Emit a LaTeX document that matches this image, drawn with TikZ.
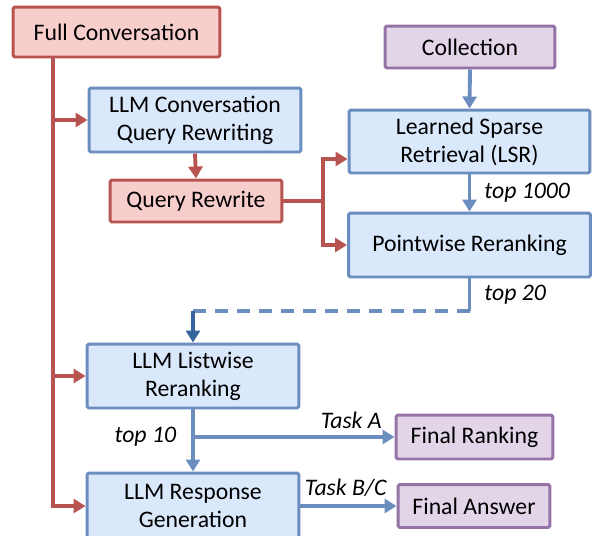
\documentclass[tikz,border=0pt]{standalone}
\usepackage{fontspec}
\setmainfont{Carlito}
\usepackage{xcolor}
\usepackage{tikz}
\usetikzlibrary{positioning,arrows.meta}
\definecolor{redfill}{HTML}{F8CECC}
\definecolor{redline}{HTML}{B85450}
\definecolor{bluefill}{HTML}{DAE8FC}
\definecolor{blueline}{HTML}{6C8EBF}
\definecolor{darkblue}{HTML}{35649E}
\definecolor{purplefill}{HTML}{E1D5E7}
\definecolor{purpleline}{HTML}{9673A6}
\tikzset{
	box/.style={
		rectangle, rounded corners=1pt, line width=1.7pt,
		align=center, inner sep=2pt
	},
	redbox/.style={box, draw=redline, fill=redfill},
	bluebox/.style={box, draw=blueline, fill=bluefill},
	purplebox/.style={box, draw=purpleline, fill=purplefill},
	wire/.style={line width=2.2pt, -{Triangle[length=2.4mm, width=2.8mm]}},
	redarrow/.style={wire, draw=redline},
	bluearrow/.style={wire, draw=blueline},
	darkarrow/.style={wire, draw=darkblue},
	redlink/.style={draw=redline, line width=2.2pt},
	bluelink/.style={draw=blueline, line width=2.2pt},
	bluedash/.style={bluelink, dash pattern=on 2.6mm off 1.8mm},
	tag/.style={font=\fontsize{13.5}{16}\selectfont\itshape, inner sep=0pt, text=black}
}

\begin{document}
\begin{tikzpicture}[x=0.02cm, y=-0.02cm, font=\fontsize{13.5}{16}\selectfont]
	\useasboundingbox (0,0) rectangle (592,535);
	
	%Nodes
	\node[redbox, minimum width=4.14cm, minimum height=1.0cm]      (full)    at (116.5,32)  {Full Conversation};
	\node[bluebox, minimum width=4.24cm, minimum height=1.28cm]    (rewrite) at (195,120)   {LLM Conversation\\Query Rewriting};
	\node[redbox, minimum width=3.44cm, minimum height=0.84cm]     (query)   at (196,201)   {Query Rewrite};
	\node[purplebox, minimum width=3.4cm, minimum height=0.84cm]   (coll)    at (470,47)    {Collection};
	\node[bluebox, minimum width=4.82cm, minimum height=1.26cm]    (lsr)     at (469.5,141.5) {Learned Sparse\\Retrieval (LSR)};
	\node[bluebox, minimum width=4.84cm, minimum height=1.28cm]    (point)   at (469.5,245) {Pointwise Reranking};
	\node[bluebox, minimum width=4.24cm, minimum height=1.28cm]    (list)    at (193,376)   {LLM Listwise\\Reranking};
	\node[bluebox, minimum width=4.24cm, minimum height=1.32cm]    (gen)     at (193,506)   {LLM Response\\Generation};
	\node[purplebox, minimum width=3.14cm, minimum height=0.88cm]  (rank)    at (474.5,437) {Final Ranking};
	\node[purplebox, minimum width=3.04cm, minimum height=0.86cm]  (answer)  at (474,506)   {Final Answer};
	
	\coordinate (spine) at (53,57);
	\coordinate (fork)  at (323,201);
	\coordinate (bend)  at (193,311);
	
	%Lines
	\draw[redarrow] (spine) |- (rewrite.west);
	\draw[redarrow] (spine) |- (list.west);
	\draw[redarrow] (spine) |- (gen.west);
	\draw[redarrow] (rewrite.south) -- (query.north);
	\draw[redlink] (query.east) -- (fork);
	\draw[redarrow] (fork) |- ([yshift=-0.35cm]lsr.west);
	\draw[redarrow] (fork) |- (point.west);
	
	\draw[bluearrow] (coll.south) -- (lsr.north);
	\draw[bluearrow] (lsr.south) -- (point.north)
		node[tag, midway, right=0.26cm] {top 1000};
	\draw[bluelink] (point.south) -- (point.south |- bend)
		node[tag, midway, right=0.26cm] {top 20};
	\draw[bluedash] (point.south |- bend) -- (bend);
	\draw[darkarrow] (bend) -- (list.north);
	
	\draw[bluearrow] (list.south) -- (gen.north);
	\draw[bluearrow] (list.south |- rank.west) -- (rank.west)
		node[tag, pos=0, left=0.3cm] {top 10}
		node[tag, pos=1, above left=0.12cm and 0.22cm] {Task A};
	\draw[bluearrow] (gen.east |- answer.west) -- (answer.west)
		node[tag, pos=1, above left=0.16cm and 0.16cm] {Task B/C};
\end{tikzpicture}
\end{document}
